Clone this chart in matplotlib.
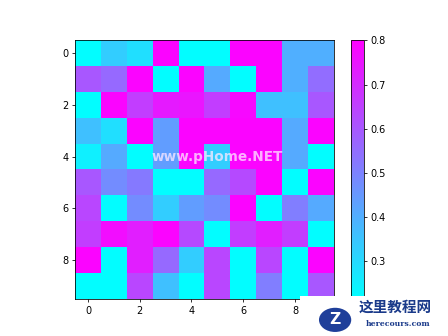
import numpy as np
import matplotlib.pyplot as plt
from matplotlib.patches import Rectangle, Circle

# cell values (rows top to bottom)
row0 = [0.22, 0.33, 0.29, 0.79, 0.22, 0.22, 0.79, 0.79, 0.40, 0.40]
row1 = [0.60, 0.56, 0.79, 0.22, 0.79, 0.41, 0.22, 0.79, 0.40, 0.55]
row2 = [0.22, 0.79, 0.66, 0.74, 0.75, 0.66, 0.78, 0.36, 0.36, 0.60]
row3 = [0.36, 0.29, 0.79, 0.44, 0.79, 0.79, 0.79, 0.79, 0.41, 0.79]
row4 = [0.25, 0.41, 0.22, 0.44, 0.79, 0.33, 0.79, 0.79, 0.41, 0.22]
row5 = [0.60, 0.48, 0.52, 0.22, 0.22, 0.56, 0.63, 0.79, 0.22, 0.79]
row6 = [0.64, 0.22, 0.48, 0.33, 0.44, 0.48, 0.79, 0.22, 0.51, 0.41]
row7 = [0.66, 0.77, 0.73, 0.79, 0.63, 0.22, 0.66, 0.73, 0.66, 0.22]
row8 = [0.79, 0.22, 0.73, 0.56, 0.33, 0.64, 0.22, 0.64, 0.22, 0.79]
row9 = [0.22, 0.22, 0.64, 0.36, 0.22, 0.64, 0.22, 0.51, 0.22, 0.60]

data = np.array([row0, row1, row2, row3, row4, row5, row6, row7, row8, row9])

fig = plt.figure(figsize=(6.4, 4.8), dpi=70)
im = plt.imshow(data, cmap='cool', vmin=0.215, vmax=0.8)
plt.colorbar(im)

# watermark in the middle
plt.text(5.0, 4.0, 'www.pHome.NET', color='#ffe8ff', alpha=0.75, fontsize=14,
         fontweight='bold', ha='center', va='center')

# site logo in the lower right corner
fig.patches.append(Rectangle((0.67, 0.0), 0.33, 0.12, transform=fig.transFigure,
                             facecolor='white', edgecolor='none', zorder=5))
fig.patches.append(Circle((0.748, 0.048), 0.036, transform=fig.transFigure,
                          facecolor='#1f3f9a', edgecolor='none', zorder=6))
fig.text(0.748, 0.048, 'Z', color='white', fontsize=16, fontweight='bold',
         ha='center', va='center', zorder=7)
fig.text(0.80, 0.086, '这里教程网', family=['Noto Sans CJK SC', 'DejaVu Sans'],
         color='#1a3a8a', fontsize=15, fontweight='bold', va='center', zorder=7)
fig.text(0.817, 0.036, 'herecours.com', family='DejaVu Serif', color='#1a3a8a',
         fontsize=8, fontweight='bold', va='center', zorder=7)

plt.savefig('out.png', dpi=70)
